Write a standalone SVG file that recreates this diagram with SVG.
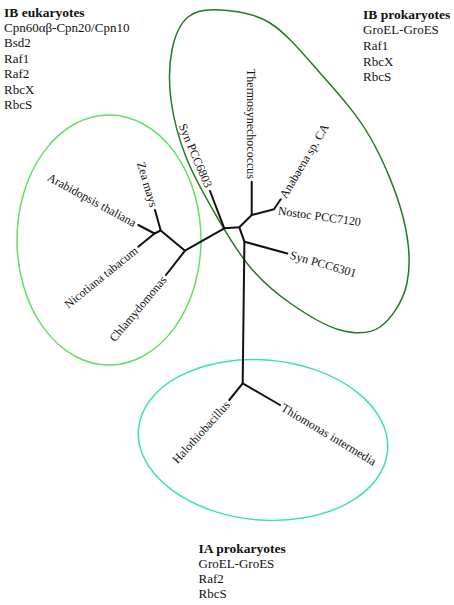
<svg xmlns="http://www.w3.org/2000/svg" width="454" height="605" viewBox="0 0 454 605">
<style>
text{font-family:"Liberation Serif","Times New Roman",serif;fill:#111}
.h{font-size:13.5px;font-weight:bold}
.l{font-size:13px}
.leaf{font-size:12px}
.br{stroke:#111;stroke-width:2;fill:none;stroke-linecap:round;stroke-linejoin:round}
.e{fill:none;stroke-width:1.5}
</style>
<rect width="454" height="605" fill="#fff"/>

<g id="clade-ib-eukaryotes">
<ellipse class="e" cx="109" cy="240" rx="92" ry="125" stroke="#66dd66"/>
</g>
<g id="clade-ib-prokaryotes">
<path class="e" stroke="#237a23" d="M220,10 C233.7,11 253.3,12.5 270,23 C286.7,33.5 303.3,54 320,73 C336.7,92 356.2,113 370,137 C383.8,161 396.8,192.7 403,217 C409.2,241.3 410.8,264.7 407,283 C403.2,301.3 391.2,319.2 380,327 C368.8,334.8 355,334 340,330 C325,326 305,313.5 290,303 C275,292.5 262.2,281.3 250,267 C237.8,252.7 227.7,235.3 217,217 C206.3,198.7 193.7,176.5 186,157 C178.3,137.5 173.3,117.8 171,100 C168.7,82.2 169.2,63.8 172,50 C174.8,36.2 180,23.7 188,17 C196,10.3 206.3,9 220,10 Z"/>
</g>
<g id="clade-ia-prokaryotes">
<ellipse class="e" cx="263" cy="440" rx="125" ry="80" transform="rotate(5 263 440)" stroke="#3ee0b2"/>
</g>

<g id="connectors">
<path class="br" d="M210,191 L224.3,228.3 L239.3,227.3 L251.7,215 L251.7,181.7"/>
<path class="br" d="M251.7,215 L274,209.3 L280.7,199.3"/>
<path class="br" d="M239.3,227.3 L244.4,241.7 L242.7,383.3"/>
<path class="br" d="M244.4,241.7 L287.3,253.5"/>
<path class="br" d="M229.3,400 L242.7,383.3 L280,405"/>
<path class="br" d="M224.3,228.3 L185,250.7 L166,275"/>
<path class="br" d="M185,250.7 L160.7,230.5 L155,210"/>
<path class="br" d="M160.7,230.5 L154.5,233.5 L138.3,225"/>
<path class="br" d="M154.5,233.5 L138.3,246.7"/>
</g>

<g id="legend-ib-eukaryotes">
<text class="h" x="4" y="16.5">IB eukaryotes</text>
<text class="l" x="4" y="31.9">Cpn60αβ-Cpn20/Cpn10</text>
<text class="l" x="4" y="47.3">Bsd2</text>
<text class="l" x="4" y="62.7">Raf1</text>
<text class="l" x="4" y="78.1">Raf2</text>
<text class="l" x="4" y="93.5">RbcX</text>
<text class="l" x="4" y="108.9">RbcS</text>
</g>
<g id="legend-ib-prokaryotes">
<text class="h" x="363" y="18.5">IB prokaryotes</text>
<text class="l" x="363" y="34.3">GroEL-GroES</text>
<text class="l" x="363" y="49.9">Raf1</text>
<text class="l" x="363" y="65.5">RbcX</text>
<text class="l" x="363" y="81.1">RbcS</text>
</g>
<g id="legend-ia-prokaryotes">
<text class="h" x="198.5" y="553.3">IA prokaryotes</text>
<text class="l" x="198.5" y="568.3">GroEL-GroES</text>
<text class="l" x="198.5" y="583.3">Raf2</text>
<text class="l" x="198.5" y="598.3">RbcS</text>
</g>

<g id="leaf-thermosynechococcus"><text class="leaf" text-anchor="end" dy="0.35em" transform="translate(251.7,179) rotate(90)">Thermosynechococcus</text></g>
<g id="leaf-zea-mays"><text class="leaf" text-anchor="end" dy="0.35em" transform="translate(154,206.5) rotate(73.5)">Zea mays</text></g>
<g id="leaf-syn-pcc6803"><text class="leaf" text-anchor="end" dy="0.35em" transform="translate(209,187) rotate(67)">Syn PCC6803</text></g>
<g id="leaf-arabidopsis"><text class="leaf" text-anchor="end" dy="0.35em" transform="translate(135.5,223.5) rotate(28.5)">Arabidopsis thaliana</text></g>
<g id="leaf-nicotiana"><text class="leaf" text-anchor="end" dy="0.35em" transform="translate(136,248.8) rotate(-39)">Nicotiana tabacum</text></g>
<g id="leaf-chlamydomonas"><text class="leaf" text-anchor="end" dy="0.35em" transform="translate(164,277.5) rotate(-50)">Chlamydomonas</text></g>
<g id="leaf-halothiobacillus"><text class="leaf" text-anchor="end" dy="0.35em" transform="translate(227.5,402.5) rotate(-48)">Halothiobacillus</text></g>
<g id="leaf-thiomonas"><text class="leaf" dy="0.35em" transform="translate(282.5,406.5) rotate(31)">Thiomonas intermedia</text></g>
<g id="leaf-nostoc"><text class="leaf" dy="0.35em" transform="translate(278,210.3) rotate(8)">Nostoc PCC7120</text></g>
<g id="leaf-syn-pcc6301"><text class="leaf" dy="0.35em" transform="translate(290.5,254.5) rotate(16)">Syn PCC6301</text></g>
<g id="leaf-anabaena"><text class="leaf" dy="0.35em" transform="translate(282.3,197) rotate(-59)">Anabaena sp. CA</text></g>
</svg>
